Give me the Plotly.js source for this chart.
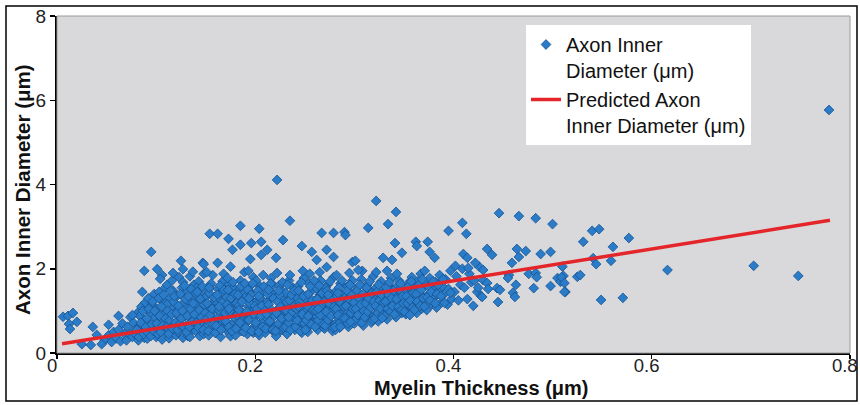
<!DOCTYPE html>
<html>
<head>
<meta charset="utf-8">
<script src="https://cdn.plot.ly/plotly-3.0.1.min.js"></script>
<style>
  html, body { margin: 0; padding: 0; background: #ffffff; }
  #chart { width: 860px; height: 405px; }
</style>
</head>
<body>
<div id="chart"></div>
<script>
// ---- Dense cloud of measurements, layer A (Myelin thickness, µm) ----
const clusterThickness = [
  0.048,0.052,0.055,0.057,
  0.060,0.062,0.064,0.066,0.068,
  0.070,0.071,0.073,0.074,0.076,0.077,0.079,
  0.080,0.081,0.082,0.084,0.085,0.086,0.087,0.088,0.089,
  0.090,0.091,0.092,0.093,0.094,0.095,0.096,0.097,0.098,0.099,
  0.100,0.101,0.102,0.103,0.104,0.105,0.106,0.107,0.108,0.109,0.109,
  0.110,0.111,0.112,0.113,0.114,0.115,0.116,0.117,0.118,0.119,0.111,0.116,
  0.120,0.121,0.122,0.123,0.124,0.125,0.126,0.127,0.128,0.129,0.122,0.127,
  0.130,0.131,0.132,0.133,0.134,0.135,0.136,0.137,0.138,0.139,0.132,0.137,0.134,
  0.140,0.141,0.142,0.143,0.144,0.145,0.146,0.147,0.148,0.149,0.141,0.146,0.148,
  0.150,0.151,0.152,0.153,0.154,0.155,0.156,0.157,0.158,0.159,0.152,0.155,0.158,0.151,
  0.160,0.161,0.162,0.163,0.164,0.165,0.166,0.167,0.168,0.169,0.162,0.165,0.168,0.163,
  0.170,0.171,0.172,0.173,0.174,0.175,0.176,0.177,0.178,0.179,0.172,0.175,0.178,0.171,
  0.180,0.181,0.182,0.183,0.184,0.185,0.186,0.187,0.188,0.189,0.182,0.185,0.188,0.181,
  0.190,0.191,0.192,0.193,0.194,0.195,0.196,0.197,0.198,0.199,0.192,0.195,0.198,0.193,
  0.200,0.201,0.202,0.203,0.204,0.205,0.206,0.207,0.208,0.209,0.202,0.205,0.208,0.201,
  0.210,0.211,0.212,0.213,0.214,0.215,0.216,0.217,0.218,0.219,0.212,0.215,0.218,0.211,
  0.220,0.221,0.222,0.223,0.224,0.225,0.226,0.227,0.228,0.229,0.222,0.225,0.228,0.221,
  0.230,0.231,0.232,0.233,0.234,0.235,0.236,0.237,0.238,0.239,0.232,0.235,0.238,0.231,
  0.240,0.241,0.242,0.243,0.244,0.245,0.246,0.247,0.248,0.249,0.242,0.245,0.248,0.241,
  0.250,0.251,0.252,0.253,0.254,0.255,0.256,0.257,0.258,0.259,0.252,0.255,0.258,0.251,
  0.260,0.261,0.262,0.263,0.264,0.265,0.266,0.267,0.268,0.269,0.262,0.265,0.268,0.261,
  0.270,0.271,0.272,0.273,0.274,0.275,0.276,0.277,0.278,0.279,0.272,0.275,0.278,0.271,
  0.280,0.281,0.282,0.283,0.284,0.285,0.286,0.287,0.288,0.289,0.282,0.285,0.288,0.281,
  0.290,0.291,0.292,0.293,0.294,0.295,0.296,0.297,0.298,0.299,0.292,0.295,0.298,
  0.300,0.301,0.302,0.303,0.304,0.305,0.306,0.307,0.308,0.309,0.302,0.305,0.308,
  0.310,0.311,0.312,0.313,0.314,0.315,0.316,0.317,0.318,0.319,0.312,0.316,
  0.320,0.321,0.322,0.323,0.324,0.325,0.326,0.327,0.328,0.329,0.322,0.326,
  0.330,0.331,0.332,0.333,0.334,0.335,0.336,0.337,0.338,0.339,0.333,
  0.340,0.341,0.342,0.343,0.344,0.345,0.346,0.347,0.348,0.349,0.343,
  0.350,0.351,0.352,0.353,0.354,0.355,0.356,0.357,0.358,0.359,
  0.360,0.361,0.362,0.363,0.364,0.365,0.366,0.367,0.368,0.369,
  0.370,0.372,0.373,0.375,0.376,0.378,0.379,0.371,
  0.380,0.382,0.383,0.385,0.386,0.388,0.389,
  0.390,0.392,0.394,0.395,0.397,0.398,
  0.401,0.403,0.405,0.407,0.409,
  0.411,0.414,0.416,0.418,
  0.421,0.424,0.426,0.428
];
// ---- Dense cloud, layer A (Axon inner diameter, µm) ----
const clusterDiameter = [
  0.30,0.42,0.26,0.50,
  0.35,0.55,0.28,0.70,0.45,
  0.30,0.62,0.45,0.85,0.38,0.72,0.55,
  0.42,0.95,0.30,0.65,1.10,0.50,0.80,0.36,1.20,
  0.58,0.34,1.30,0.72,0.95,0.45,1.15,0.62,1.40,0.85,
  0.38,1.05,0.55,1.45,0.75,1.25,0.32,0.92,0.62,1.55,1.18,
  0.48,1.62,0.85,0.35,1.30,0.68,1.05,1.48,0.55,0.95,1.15,1.72,
  0.42,1.35,0.75,1.80,1.02,0.58,1.55,0.36,1.20,0.88,0.50,1.68,
  0.65,1.45,0.40,1.10,1.82,0.82,1.30,0.55,1.62,0.98,1.25,0.72,0.38,
  0.52,1.18,0.90,1.70,0.40,1.38,0.68,1.05,1.88,0.80,1.55,1.25,0.45,
  0.62,1.35,0.95,0.42,1.60,1.12,0.75,1.85,0.55,1.25,1.48,0.85,1.02,1.92,
  0.48,1.05,1.52,0.72,1.28,0.38,0.92,1.70,0.60,1.15,0.82,1.42,1.88,0.55,
  0.58,1.32,0.88,1.62,0.45,1.08,1.45,0.70,1.22,0.95,1.78,0.40,1.55,1.00,
  0.42,1.18,0.65,1.48,0.98,1.72,0.52,1.30,0.80,1.92,1.05,0.62,1.40,0.88,
  0.70,1.35,0.45,1.10,1.58,0.88,1.25,0.58,1.80,1.02,0.78,1.45,0.48,1.95,
  0.55,1.22,0.90,1.62,0.42,1.05,1.40,0.75,1.85,1.15,0.62,1.30,0.98,1.72,
  0.48,1.10,0.82,1.50,0.65,1.28,1.78,0.95,0.52,1.38,1.20,0.72,1.62,1.00,
  0.62,1.32,0.45,1.05,1.60,0.85,1.18,0.55,1.45,0.98,1.90,0.72,1.25,0.40,
  0.78,1.42,0.50,1.15,1.72,0.92,1.30,0.62,1.55,1.05,0.45,1.85,0.85,1.22,
  0.55,1.25,0.88,1.58,0.68,1.12,1.42,0.48,1.00,1.78,1.32,0.75,1.95,0.95,
  0.62,1.35,1.02,0.50,1.65,0.85,1.20,1.48,0.72,1.10,0.58,1.88,0.95,1.28,
  0.72,1.18,1.52,0.55,0.95,1.38,1.72,0.82,1.08,0.60,1.28,1.92,1.45,0.88,
  0.58,1.25,0.92,1.62,1.05,0.70,1.40,1.15,0.52,1.80,0.82,1.32,1.00,1.55,
  0.68,1.12,1.48,0.85,1.28,0.60,1.65,1.02,1.38,0.78,1.85,1.20,0.95,0.55,
  0.75,1.32,1.00,1.58,0.62,1.18,1.45,0.88,1.72,1.08,1.25,1.90,0.95,
  0.70,1.22,0.95,1.55,1.38,0.82,1.10,1.75,1.28,0.65,1.45,1.02,1.95,
  0.80,1.35,1.08,1.62,0.92,1.25,1.48,0.72,1.15,1.82,1.00,1.38,
  0.88,1.28,1.55,1.05,0.75,1.40,1.18,1.70,0.98,1.32,1.92,1.50,
  0.92,1.45,1.15,0.80,1.62,1.30,1.02,1.78,1.22,1.50,1.95,
  1.00,1.38,0.85,1.58,1.20,1.72,1.08,1.45,0.95,1.30,1.88,
  1.05,1.48,0.92,1.25,1.65,1.12,1.38,0.98,1.80,1.52,
  1.10,1.55,1.28,0.95,1.70,1.18,1.42,1.88,1.05,1.32,
  1.22,1.62,1.02,1.40,1.78,1.15,1.50,1.95,
  1.30,1.68,1.08,1.48,1.85,1.20,1.58,
  1.38,1.75,1.15,1.52,1.95,1.28,
  1.45,1.82,1.25,1.62,2.00,
  1.55,1.28,1.88,1.68,
  1.72,1.45,2.05,1.35
];
// ---- Dense cloud, layer B (Myelin thickness, µm) ----
const coreThickness = [
  0.0805,0.0825,0.0835,0.0845,0.0865,0.0875,0.0895,
  0.0905,0.0915,0.0925,0.0945,0.0955,0.0965,0.0975,0.0985,
  0.1005,0.1015,0.1025,0.1035,0.1045,0.1055,0.1065,0.1075,0.1095,
  0.1105,0.1115,0.1125,0.1135,0.1145,0.1155,0.1165,0.1175,0.1185,0.1195,
  0.1205,0.1215,0.1225,0.1235,0.1245,0.1255,0.1265,0.1275,0.1285,0.1295,
  0.1305,0.1315,0.1325,0.1335,0.1345,0.1355,0.1365,0.1375,0.1385,0.1395,
  0.1405,0.1415,0.1425,0.1435,0.1445,0.1455,0.1465,0.1475,0.1485,0.1495,
  0.1505,0.1515,0.1525,0.1535,0.1545,0.1555,0.1565,0.1575,0.1585,0.1595,0.1535,
  0.1605,0.1615,0.1625,0.1635,0.1645,0.1655,0.1665,0.1675,0.1685,0.1695,0.1635,
  0.1705,0.1715,0.1725,0.1735,0.1745,0.1755,0.1765,0.1775,0.1785,0.1795,0.1735,
  0.1805,0.1815,0.1825,0.1835,0.1845,0.1855,0.1865,0.1875,0.1885,0.1895,0.1835,
  0.1905,0.1915,0.1925,0.1935,0.1945,0.1955,0.1965,0.1975,0.1985,0.1995,0.1935,
  0.2005,0.2015,0.2025,0.2035,0.2045,0.2055,0.2065,0.2075,0.2085,0.2095,0.2035,
  0.2105,0.2115,0.2125,0.2135,0.2145,0.2155,0.2165,0.2175,0.2185,0.2195,0.2135,
  0.2205,0.2215,0.2225,0.2235,0.2245,0.2255,0.2265,0.2275,0.2285,0.2295,0.2235,
  0.2305,0.2315,0.2325,0.2335,0.2345,0.2355,0.2365,0.2375,0.2385,0.2395,0.2335,
  0.2405,0.2415,0.2425,0.2435,0.2445,0.2455,0.2465,0.2475,0.2485,0.2495,0.2435,
  0.2505,0.2515,0.2525,0.2535,0.2545,0.2555,0.2565,0.2575,0.2585,0.2595,0.2535,
  0.2605,0.2615,0.2625,0.2635,0.2645,0.2655,0.2665,0.2675,0.2685,0.2695,0.2635,
  0.2705,0.2715,0.2725,0.2735,0.2745,0.2755,0.2765,0.2775,0.2785,0.2795,0.2735,
  0.2805,0.2815,0.2825,0.2835,0.2845,0.2855,0.2865,0.2875,0.2885,0.2895,0.2835,
  0.2905,0.2915,0.2925,0.2935,0.2945,0.2955,0.2965,0.2975,0.2985,0.2995,
  0.3005,0.3015,0.3025,0.3035,0.3045,0.3055,0.3065,0.3075,0.3085,0.3095,
  0.3105,0.3115,0.3125,0.3135,0.3145,0.3155,0.3165,0.3175,0.3185,0.3195,
  0.3205,0.3215,0.3225,0.3235,0.3245,0.3255,0.3265,0.3275,0.3285,0.3295,
  0.3305,0.3315,0.3325,0.3335,0.3345,0.3355,0.3365,0.3375,0.3385,0.3395,
  0.3405,0.3425,0.3445,0.3455,0.3465,0.3475,0.3485,0.3495,
  0.3505,0.3525,0.3535,0.3545,0.3565,0.3575,0.3585,0.3595,
  0.3605,0.3625,0.3635,0.3655,0.3665,0.3675,0.3685,0.3695,
  0.3705,0.3735,0.3745,0.3765,0.3775,0.3795,
  0.3815,0.3835,0.3845,0.3875,0.3895
];
// ---- Dense cloud, layer B (Axon inner diameter, µm) ----
const coreDiameter = [
  0.55,0.38,0.88,0.72,1.00,0.45,0.62,
  0.82,0.48,1.05,0.40,0.68,1.22,0.52,1.00,
  0.70,0.45,1.30,0.88,0.50,1.10,0.65,1.38,0.82,
  0.62,1.00,0.45,0.78,1.48,0.92,0.58,1.22,1.35,0.72,
  0.95,0.55,1.12,0.68,1.40,0.82,1.00,0.62,1.60,1.28,
  0.50,0.88,1.35,0.62,1.05,1.52,0.75,1.18,0.92,1.42,
  0.72,1.45,0.60,1.02,1.28,0.85,1.58,0.55,1.15,0.95,
  0.80,1.18,0.52,1.42,0.90,1.65,1.05,0.68,1.32,0.48,1.55,
  0.65,1.38,0.85,1.00,1.60,0.55,1.20,0.78,1.50,0.95,1.10,
  0.75,1.15,1.50,0.62,0.98,1.30,0.52,1.68,0.85,1.40,1.05,
  0.58,0.90,1.38,1.12,0.72,1.58,1.22,0.95,0.50,1.65,1.02,
  0.60,0.98,1.50,0.78,1.18,1.38,0.52,1.65,0.92,1.12,1.30,
  0.72,1.05,1.48,0.50,1.30,0.88,1.12,0.62,1.58,1.00,1.35,
  0.58,0.92,1.40,1.15,0.75,1.65,1.02,0.55,1.30,0.88,1.50,
  0.52,0.95,1.22,0.70,1.38,1.10,0.82,1.68,0.60,1.02,1.48,
  0.62,1.00,1.62,0.72,1.25,0.55,1.38,0.98,1.10,1.48,0.85,
  0.62,1.05,0.78,1.48,1.20,0.52,1.68,0.92,1.35,0.70,1.10,
  0.55,0.78,1.12,1.40,0.92,1.58,0.68,1.25,1.02,1.72,0.88,
  0.62,1.00,1.28,0.78,1.60,0.90,1.12,1.42,0.68,1.22,1.05,
  0.65,0.98,1.48,0.78,1.18,1.70,0.88,1.28,0.60,1.10,1.38,
  0.62,1.05,1.35,0.90,1.55,0.72,1.18,1.72,0.82,1.10,1.42,
  0.82,1.12,1.48,0.70,1.28,1.62,0.95,1.38,1.05,1.20,
  0.78,1.05,1.48,0.90,1.30,1.62,1.15,0.72,1.40,1.00,
  0.85,1.18,1.55,0.98,1.30,1.70,1.08,1.42,0.78,1.22,
  0.82,1.12,1.45,0.95,1.62,1.25,1.05,1.38,0.90,1.20,
  0.88,1.22,1.55,1.05,1.38,1.68,0.98,1.30,1.12,1.48,
  0.92,1.28,1.10,1.50,1.65,1.02,1.35,1.18,
  0.98,1.35,1.18,1.58,1.25,1.70,1.08,1.42,
  1.02,1.40,1.22,1.62,1.12,1.50,1.75,1.30,
  1.10,1.32,1.58,1.25,1.45,1.70,
  1.18,1.40,1.62,1.35,1.75
];
// ---- Sparse / outlying measurements ----
const scatterThickness = [
  0.006,0.011,0.016,0.012,0.013,0.020,0.036,0.025,0.034,0.045,0.040,0.062,0.052,0.076,
  0.095,0.125,0.088,0.101,0.106,0.104,0.117,0.127,0.086,0.147,0.137,0.162,0.175,
  0.222,0.235,0.185,0.204,0.154,0.162,0.173,0.206,0.228,0.185,0.196,0.177,0.212,0.206,0.195,0.221,
  0.247,0.257,0.262,0.267,0.279,0.290,0.272,0.279,0.148,0.272,0.298,0.304,
  0.322,0.342,0.334,0.314,0.291,0.409,0.395,0.413,0.341,0.362,0.363,0.374,0.348,0.376,0.381,
  0.410,0.414,0.422,0.415,0.402,0.301,0.329,0.338,0.420,0.356,0.286,0.296,0.328,0.397,0.391,0.429,
  0.446,0.466,0.483,0.500,0.434,0.439,0.464,0.473,0.466,0.488,0.498,0.459,0.430,0.456,0.455,
  0.476,0.483,0.484,0.505,0.508,0.511,0.430,0.434,0.435,0.444,0.447,0.463,0.481,0.498,0.513,
  0.460,0.462,0.425,0.445,
  0.531,0.540,0.547,0.577,0.561,0.541,0.544,0.559,0.616,0.525,0.528,0.510,0.509,0.512,0.512,
  0.549,0.571,0.703,0.748,0.779
];
const scatterDiameter = [
  0.86,0.88,0.95,0.69,0.57,0.74,0.62,0.21,0.19,0.21,0.43,0.88,0.67,0.90,
  2.40,2.19,1.95,1.99,1.85,1.76,1.90,1.99,1.45,2.14,1.93,2.14,2.05,
  4.11,3.14,3.02,2.95,2.83,2.83,2.71,2.64,2.68,2.57,2.61,2.45,2.45,2.33,2.23,2.26,
  2.54,2.40,2.21,2.85,2.85,2.87,2.45,2.28,2.11,2.04,2.16,1.97,
  3.61,3.35,3.06,2.97,2.80,3.09,2.90,2.83,2.61,2.64,2.54,2.64,2.38,2.40,2.26,
  2.35,2.26,2.14,2.02,2.07,2.19,2.26,2.21,1.12,0.90,0.62,0.74,0.83,1.43,1.19,1.33,
  3.32,3.25,3.20,3.06,2.47,2.33,2.47,2.42,2.28,2.35,2.40,2.14,1.97,1.85,1.78,
  1.88,1.90,1.80,1.78,1.69,1.83,1.73,1.66,1.52,1.54,1.50,1.62,1.54,1.59,1.45,
  1.43,1.33,1.55,1.21,
  2.64,2.90,2.94,2.73,2.52,2.25,2.11,2.19,1.97,1.81,1.85,2.05,1.80,1.66,1.45,
  1.26,1.31,2.07,1.83,5.77
];
// ---- Fitted (predicted) line end points ----
const fitThickness = [0.005, 0.78];
const fitDiameter = [0.22, 3.15];

const xTickVals = [0, 0.2, 0.4, 0.6, 0.8];
const xTickText = ['0', '0.2', '0.4', '0.6', '0.8'];
const yTickVals = [0, 2, 4, 6, 8];
const yTickText = ['0', '2', '4', '6', '8'];

const seriesNames = ['Axon Inner<br>Diameter (μm)', 'Predicted Axon<br>Inner Diameter (μm)'];
const xTitle = 'Myelin Thickness (μm)';
const yTitle = 'Axon Inner Diameter (μm)';

const allX = clusterThickness.concat(coreThickness, scatterThickness);
const allY = clusterDiameter.concat(coreDiameter, scatterDiameter);

const FONT = '"Liberation Sans", Arial, sans-serif';

const traces = [
  {
    type: 'scatter', mode: 'markers', name: seriesNames[0],
    x: allX, y: allY,
    marker: { symbol: 'diamond', size: 7.5, color: '#2a7bc8', line: { color: '#15528f', width: 0.8 } },
    hoverinfo: 'x+y'
  },
  {
    type: 'scatter', mode: 'lines', name: seriesNames[1],
    x: fitThickness, y: fitDiameter,
    line: { color: '#e4262b', width: 3.5 }
  }
];

// plot area pixel box: left 57, right 850, top 16, bottom 353
const L = 57, R = 850, T = 16, B = 353;
const W = R - L, H = B - T;
const px = v => (v - L) / W;
const py = v => (B - v) / H;

const layout = {
  width: 860, height: 405,
  margin: { l: L, r: 860 - R, t: T, b: 405 - B, pad: 0 },
  paper_bgcolor: '#ffffff',
  plot_bgcolor: '#d9d9dc',
  font: { family: FONT, size: 19, color: '#222222' },
  showlegend: true,
  legend: {
    x: px(526), y: py(25), xanchor: 'left', yanchor: 'top',
    bgcolor: '#ffffff', borderwidth: 0,
    font: { family: FONT, size: 20, color: '#111111' },
    valign: 'top', itemwidth: 30, tracegroupgap: 0
  },
  xaxis: {
    range: [-0.0001, 0.8002], tickvals: xTickVals, ticktext: xTickText,
    showgrid: false, zeroline: false,
    showline: true, linecolor: '#000000', linewidth: 2,
    ticks: 'outside', ticklen: 4, tickwidth: 1.5, tickcolor: '#000000',
    ticklabelstandoff: -9, ticklabelshift: -5, ticklabeloverflow: 'allow',
    tickfont: { family: FONT, size: 18.5, color: '#222222' },
    fixedrange: true
  },
  yaxis: {
    range: [0, 8.001], tickvals: yTickVals, ticktext: yTickText,
    showgrid: false, zeroline: false,
    showline: true, linecolor: '#000000', linewidth: 2,
    ticks: 'outside', ticklen: 5, tickwidth: 1.5, tickcolor: '#000000',
    ticklabeloverflow: 'allow',
    tickfont: { family: FONT, size: 19, color: '#222222' },
    fixedrange: true
  },
  annotations: [
    {
      text: '<b>' + xTitle + '</b>', xref: 'paper', yref: 'paper',
      x: px(481), y: py(388), xanchor: 'center', yanchor: 'middle',
      showarrow: false, font: { family: FONT, size: 20, color: '#111111' }
    },
    {
      text: '<b>' + yTitle + '</b>', xref: 'paper', yref: 'paper',
      x: px(22), y: py(190), xanchor: 'center', yanchor: 'middle', textangle: -90,
      showarrow: false, font: { family: FONT, size: 20.5, color: '#111111' }
    }
  ],
  shapes: [
    { type: 'rect', xref: 'paper', yref: 'paper', x0: 0, x1: 1, y0: 0, y1: 1,
      line: { color: '#9a9a9a', width: 1 }, fillcolor: 'rgba(0,0,0,0)', layer: 'above' },
    { type: 'rect', xref: 'paper', yref: 'paper', x0: px(6), x1: px(857), y0: py(401), y1: py(6),
      line: { color: '#000000', width: 1.5 }, fillcolor: 'rgba(0,0,0,0)', layer: 'above' }
  ]
};

Plotly.newPlot('chart', traces, layout, { displayModeBar: false, staticPlot: true });
</script>
</body>
</html>
